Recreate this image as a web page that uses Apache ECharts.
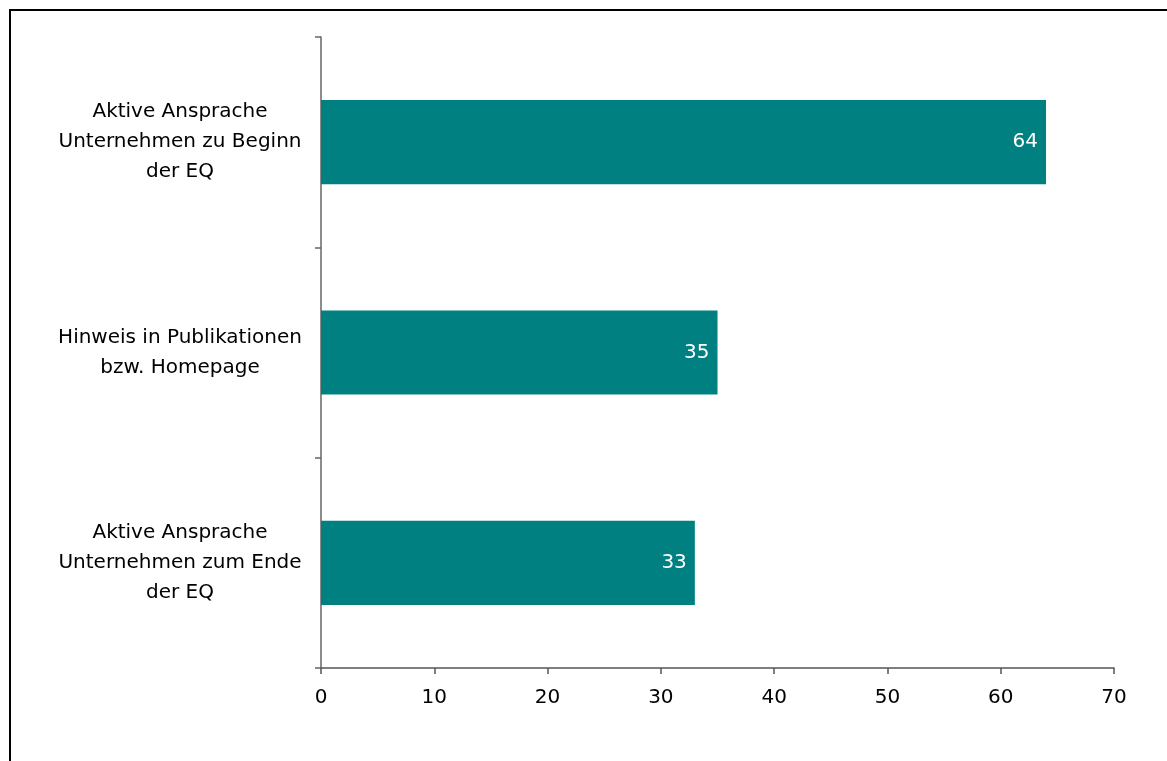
<!DOCTYPE html>
<html>
<head>
<meta charset="utf-8">
<script src="https://cdn.jsdelivr.net/npm/echarts@6/dist/echarts.min.js"></script>
<style>
html,body{margin:0;padding:0;background:#fff;}
#main{width:1167px;height:761px;}
</style>
</head>
<body>
<div id="main"></div>
<script>
var categories = [
  "Aktive Ansprache\nUnternehmen zum Ende\nder EQ",
  "Hinweis in Publikationen\nbzw. Homepage",
  "Aktive Ansprache\nUnternehmen zu Beginn\nder EQ"
];
var values = [33, 35, 64];
var xTicks = { min: 0, max: 70, interval: 10 };

var chart = echarts.init(document.getElementById('main'), null, {renderer: 'canvas'});
var font = '"DejaVu Sans", "Liberation Sans", Arial, sans-serif';
chart.setOption({
  animation: false,
  backgroundColor: '#ffffff',
  graphic: [{
    type: 'rect',
    shape: { x: 10, y: 10, width: 1300, height: 900 },
    style: { fill: 'none', stroke: '#000', lineWidth: 2 },
    silent: true
  }],
  grid: { left: 321, right: 53, top: 37, bottom: 93, containLabel: false },
  xAxis: {
    type: 'value',
    min: xTicks.min, max: xTicks.max, interval: xTicks.interval,
    axisLine: { show: true, onZero: false, lineStyle: { color: '#555', width: 1.5 } },
    axisTick: { show: true, inside: false, length: 6, lineStyle: { color: '#555', width: 1.5 } },
    splitLine: { show: false },
    axisLabel: { color: '#000', fontSize: 20, fontFamily: font, margin: 20 }
  },
  yAxis: {
    type: 'category',
    data: categories,
    axisLine: { show: true, lineStyle: { color: '#666', width: 1.5 } },
    axisTick: { show: true, inside: false, length: 6, alignWithLabel: false, lineStyle: { color: '#666', width: 1.5 } },
    axisLabel: {
      color: '#000', fontSize: 20, fontFamily: font, lineHeight: 30,
      align: 'center', margin: 141
    }
  },
  series: [{
    type: 'bar',
    data: values,
    barCategoryGap: '60%',
    itemStyle: { color: '#008080' },
    label: {
      show: true, position: 'insideRight', distance: 8,
      color: '#fff', fontSize: 20, fontFamily: font
    }
  }]
});
</script>
</body>
</html>
